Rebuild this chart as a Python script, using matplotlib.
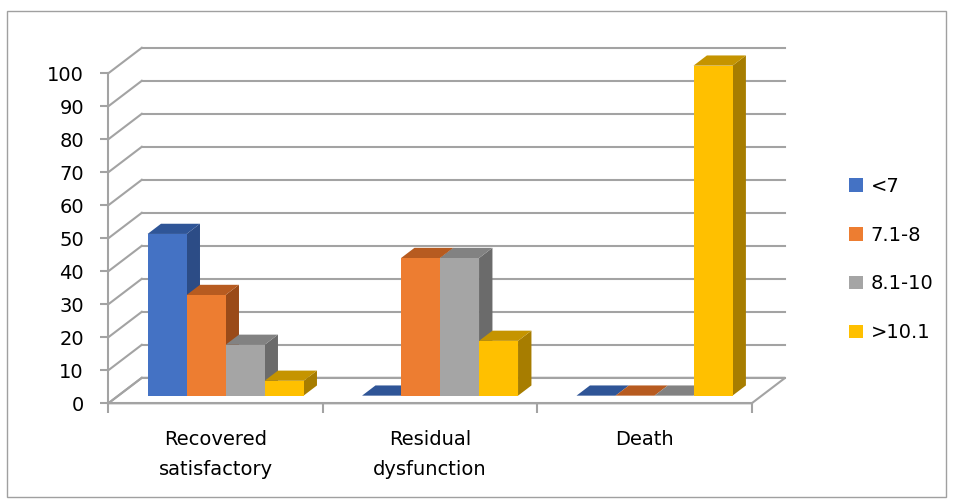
import matplotlib.pyplot as plt
from matplotlib.patches import Polygon, Patch, Rectangle
import numpy as np

plt.rcParams['font.family'] = ['DejaVu Sans']

categories = ['Recovered\nsatisfactory', 'Residual\ndysfunction', 'Death']
series = ['<7', '7.1-8', '8.1-10', '>10.1']
values = [
    [49.0, 0.0, 0.0],      # <7
    [30.5, 41.7, 0.0],     # 7.1-8
    [15.4, 41.7, 0.0],     # 8.1-10
    [4.5, 16.6, 100.0],    # >10.1
]
yticks = list(range(0, 101, 10))

# front / top / side shades per series
front = ['#4472C4', '#ED7D31', '#A5A5A5', '#FFC000']
top = ['#2F5597', '#B75B20', '#828282', '#C59400']
side = ['#2C4C86', '#9A4A18', '#6B6B6B', '#A77D00']
grid = '#A3A3A3'

fig = plt.figure(figsize=(9.54, 5.01), dpi=100)
ax = fig.add_axes([108.3 / 954, 97.7 / 501, 643.4 / 954, 330 / 501])
ax.set_xlim(0, 3)
ax.set_ylim(0, 100)

# oblique depth offset, given in pixels and turned into data units
DX, DY = 33.5, 25.5
kx = DX / (643.4 / 3)
ky = DY / (330 / 100)


def p(x, y, d):
    return (x + d * kx, y + d * ky)


def poly(pts, **kw):
    ax.add_patch(Polygon(pts, closed=True, clip_on=False, **kw))


# floor
poly([p(0, 0, 0), p(3, 0, 0), p(3, 0, 1), p(0, 0, 1)],
     facecolor='white', edgecolor=grid, lw=1.5, zorder=1)

# back wall gridlines and left wall slants
for v in yticks:
    (x0, y0), (x1, y1) = p(0, v, 1), p(3, v, 1)
    ax.plot([x0, x1], [y0, y1], color=grid, lw=1.5, clip_on=False, zorder=1)
    (a0, b0), (a1, b1) = p(0, v, 0), p(0, v, 1)
    ax.plot([a0, a1], [b0, b1], color=grid, lw=1.5, clip_on=False, zorder=1)

# bars
n = len(series)
w = 1 / 5.5
d0, d1 = 0.3, 0.7
z = 2
for i in range(len(categories)):
    start = i + 0.5 - n * w / 2
    for j in range(n):
        h = values[j][i]
        xa, xb = start + j * w, start + (j + 1) * w
        poly([p(xb, 0, d0), p(xb, h, d0), p(xb, h, d1), p(xb, 0, d1)],
             facecolor=side[j], edgecolor='none', zorder=z)
        poly([p(xa, h, d0), p(xb, h, d0), p(xb, h, d1), p(xa, h, d1)],
             facecolor=top[j], edgecolor='none', zorder=z)
        if h > 0:
            poly([p(xa, 0, d0), p(xb, 0, d0), p(xb, h, d0), p(xa, h, d0)],
                 facecolor=front[j], edgecolor='none', zorder=z)
        z += 1

# axes styling
for s in ['top', 'right']:
    ax.spines[s].set_visible(False)
for s in ['left', 'bottom']:
    ax.spines[s].set_color(grid)
    ax.spines[s].set_linewidth(1.5)
    ax.spines[s].set_zorder(1)
ax.patch.set_visible(False)

ax.set_yticks(yticks)
ax.tick_params(axis='y', length=5.5, width=1.5, color=grid, pad=12,
               labelsize=14, labelcolor='black')
ax.set_xticks([0, 1, 2, 3])
ax.set_xticklabels([])
ax.set_xticks([0.5, 1.5, 2.5], minor=True)
ax.set_xticklabels(categories, minor=True, fontsize=14, linespacing=1.75)
ax.tick_params(axis='x', which='major', length=7, width=1.5, color=grid)
ax.tick_params(axis='x', which='minor', length=0, pad=19)

handles = [Patch(facecolor=c, edgecolor='none', label=s) for c, s in zip(front, series)]
fig.legend(handles=handles, loc='center left', bbox_to_anchor=(849 / 954, 0.482),
           frameon=False, fontsize=14, handlelength=0.7, handleheight=0.7,
           handletextpad=0.42, labelspacing=1.53, borderpad=0, borderaxespad=0)

# chart border
fig.patches.append(Rectangle((7 / 954, 4 / 501), 939 / 954, 486 / 501,
                             transform=fig.transFigure, fill=False,
                             edgecolor='#A0A0A0', lw=1))

fig.savefig('out.png', dpi=100)
